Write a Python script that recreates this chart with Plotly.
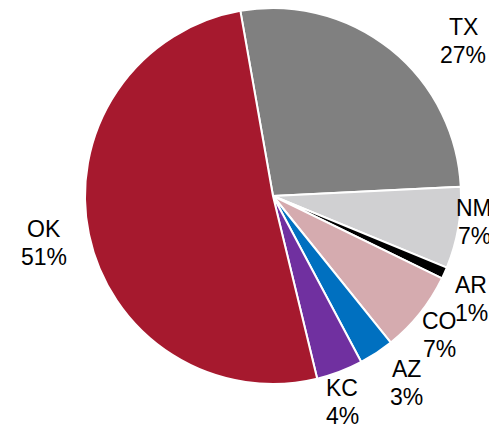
import plotly.graph_objects as go

labels = ["TX", "NM", "AR", "CO", "AZ", "KC", "OK"]
values = [27, 7, 1, 7, 3, 4, 51]
colors = ["#808080", "#d0d0d2", "#000000", "#d5abaf", "#0070c0", "#7030a0", "#a6192e"]

# label block centres in page pixels (center x, center y)
label_pos = {
    "TX": (463, 41),
    "NM": (474, 222),
    "AR": (471, 298.5),
    "CO": (439, 335),
    "AZ": (406, 383),
    "KC": (342, 402),
    "OK": (44, 243),
}
LINE_GAP = 28  # px between the two text lines

OFF = 8  # default page body margin
W, H = 497 - OFF, 428 - OFF
r = 188
cx, cy = 273 - OFF, r

fig = go.Figure(go.Pie(
    labels=labels,
    values=values,
    sort=False,
    direction="clockwise",
    rotation=-10,
    marker=dict(colors=colors, line=dict(color="white", width=2)),
    textinfo="none",
    hoverinfo="label+percent",
    domain=dict(x=[(cx - r) / W, (cx + r) / W], y=[max(0, 1 - (cy + r) / H), min(1, 1 - (cy - r) / H)]),
    showlegend=False,
))

font = dict(family="Liberation Sans, Arial, sans-serif", size=23, color="black")
for lab, val in zip(labels, values):
    px, py = label_pos[lab]
    for txt, dy in ((lab, -LINE_GAP / 2), (f"{val}%", LINE_GAP / 2)):
        fig.add_annotation(
            x=(px - OFF) / W, y=1 - (py + dy - OFF) / H, xref="paper", yref="paper",
            text=txt, showarrow=False,
            xanchor="center", yanchor="middle", align="center",
            font=font,
        )

fig.update_layout(
    width=W, height=H,
    margin=dict(l=0, r=0, t=0, b=0),
    paper_bgcolor="white", plot_bgcolor="white",
)

fig.write_html("out.html")
